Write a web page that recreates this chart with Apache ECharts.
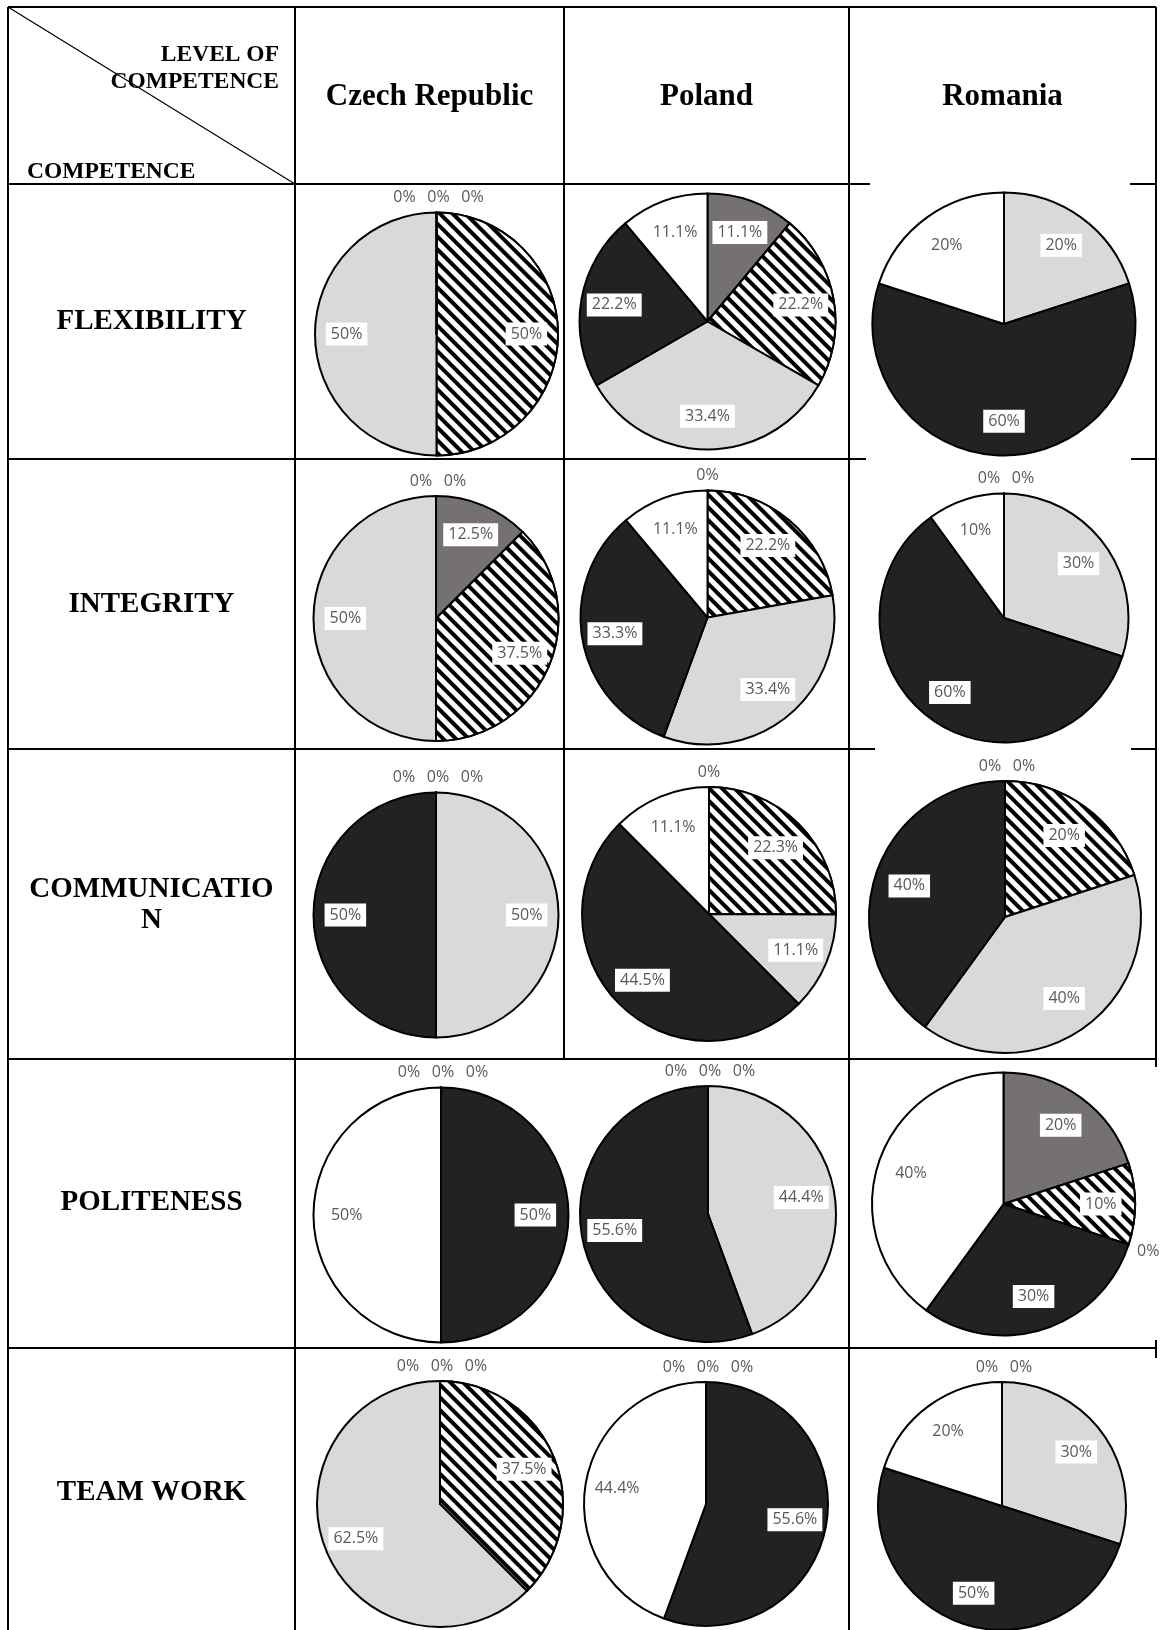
<!DOCTYPE html>
<html>
<head>
<meta charset="utf-8">
<script src="https://cdn.jsdelivr.net/npm/echarts@6/dist/echarts.min.js"></script>
<style>
  html, body { margin: 0; padding: 0; background: #fff; }
  #chart { width: 1169px; height: 1630px; }
</style>
</head>
<body>
<div id="chart"></div>
<script>
// ---- data ----
const countries = ['Czech Republic', 'Poland', 'Romania'];
const competences = ['FLEXIBILITY', 'INTEGRITY', 'COMMUNICATIO\nN', 'POLITENESS', 'TEAM WORK'];
const levels = ['level 1', 'level 2', 'level 3', 'level 4', 'level 5'];

// share of answers (%) per competence (rows) and level (columns); null = not reported
const czechRepublic = [
  [0, 50, 50, 0, 0],
  [12.5, 37.5, 50, 0, 0],
  [0, 0, 50, 50, 0],
  [0, 0, 0, 50, 50],
  [0, 37.5, 62.5, 0, 0]
];
const poland = [
  [11.1, 22.2, 33.4, 22.2, 11.1],
  [0, 22.2, 33.4, 33.3, 11.1],
  [0, 22.3, 11.1, 44.5, 11.1],
  [0, 0, 44.4, 55.6, 0],
  [0, 0, 0, 55.6, 44.4]
];
const romania = [
  [null, null, 20, 60, 20],
  [0, 0, 30, 60, 10],
  [0, 20, 40, 40, 0],
  [20, 10, 0, 30, 40],
  [0, 0, 30, 50, 20]
];

// ---- layout ----
// pie centre x, centre y, radius for each competence row and country column
const pieCells = [
  [[436.5, 334, 121.5], [707.5, 321.5, 128], [1004, 324, 131.5]],
  [[436, 618.5, 122.5], [707.5, 617.5, 127], [1004, 618, 124.5]],
  [[436, 915, 122.5], [709, 914, 127], [1005, 917, 136]],
  [[441, 1215, 127.5], [708, 1214, 128], [1003.5, 1204, 131.5]],
  [[440, 1504, 123], [706, 1504, 122], [1002, 1506, 124]]
];
const headerCenters = [429.5, 706.5, 1002.5];
const rowLabelY = [322, 605, 905.5, 1203, 1493];

// ---- styles ----
const levelFills = ['#767171', '#ffffff', '#d9d9d9', '#222222', '#ffffff'];
const hatch = {
  symbol: 'rect', symbolSize: 1, color: '#000', backgroundColor: '#fff',
  dashArrayX: [1, 0], dashArrayY: [4, 4.6], rotation: Math.PI / 4
};
const serif = '"Liberation Serif", "Times New Roman", serif';

function buildPie(values, cell) {
  const [cx, cy, r] = cell;
  const items = [];
  values.forEach((v, i) => { if (v != null) items.push({ level: i, value: v }); });
  const total = items.reduce((s, d) => s + d.value, 0);
  let cum = 0;
  const mids = items.map(d => { const m = (cum + d.value / 2) / total; cum += d.value; return m; });

  // zero slices sitting on the same angle get their labels spread side by side
  const groups = {};
  items.forEach((d, i) => {
    if (d.value === 0) {
      const key = (mids[i] % 1).toFixed(3);
      (groups[key] = groups[key] || []).push(i);
    }
  });
  const labelPos = items.map((d, i) => {
    const a = mids[i] * 2 * Math.PI;
    if (d.value !== 0) {
      const rho = r * 0.74;
      return [cx + rho * Math.sin(a), cy - rho * Math.cos(a)];
    }
    const g = groups[(mids[i] % 1).toFixed(3)];
    const k = g.indexOf(i);
    const rho = r + 15 + 6 * Math.abs(Math.sin(a));
    const spread = g.length > 1 ? (k - (g.length - 1) / 2) * 34 + 2 : 0;
    return [cx + rho * Math.sin(a) + spread, cy - rho * Math.cos(a)];
  });

  return {
    type: 'pie',
    center: [cx, cy],
    radius: r,
    startAngle: 90,
    clockwise: true,
    silent: true,
    animation: false,
    avoidLabelOverlap: false,
    itemStyle: { borderColor: '#000', borderWidth: 2 },
    label: {
      show: true,
      position: 'inside',
      formatter: p => p.value + '%',
      color: '#595959',
      fontFamily: '"Open Sans", sans-serif',
      fontSize: 16,
      backgroundColor: '#fff',
      padding: [4, 5, 3, 5]
    },
    labelLine: { show: false },
    labelLayout: p => ({
      x: labelPos[p.dataIndex][0],
      y: labelPos[p.dataIndex][1],
      align: 'center',
      verticalAlign: 'middle'
    }),
    data: items.map(d => {
      const item = {
        name: levels[d.level],
        value: d.value,
        itemStyle: { color: levelFills[d.level] }
      };
      if (d.level === 1) item.itemStyle.decal = hatch;
      if (d.value === 0) item.label = { backgroundColor: 'transparent', padding: 0 };
      return item;
    })
  };
}

const series = [];
[czechRepublic, poland, romania].forEach((table, c) => {
  table.forEach((row, k) => series.push(buildPie(row, pieCells[k][c])));
});

// ---- table grid ----
const gridLines = [
  // horizontal
  [8, 7, 1156, 7],
  [8, 184, 849, 184], [849, 184, 870, 184], [1130, 184, 1156, 184],
  [8, 459, 849, 459], [849, 459, 866, 459], [1131, 459, 1156, 459],
  [8, 749, 849, 749], [849, 749, 875, 749], [1131, 749, 1156, 749],
  [8, 1059, 1156, 1059],
  [8, 1348, 1156, 1348],
  // vertical
  [8, 7, 8, 1630],
  [295, 7, 295, 1630],
  [564, 7, 564, 1059],
  [849, 7, 849, 1630],
  [1156, 7, 1156, 1067],
  [1156, 1340, 1156, 1358]
];

const graphic = gridLines.map(([x1, y1, x2, y2]) => ({
  type: 'line', silent: true,
  shape: { x1, y1, x2, y2 },
  style: { stroke: '#000', lineWidth: 2 }
}));
graphic.push({
  type: 'line', silent: true,
  shape: { x1: 8, y1: 7, x2: 295, y2: 184 },
  style: { stroke: '#000', lineWidth: 1.2 }
});

const headFont = 'bold 23.5px ' + serif;
graphic.push(
  { type: 'text', silent: true, style: { text: 'LEVEL OF', x: 279, y: 55, font: headFont, fill: '#000', align: 'right', verticalAlign: 'middle' } },
  { type: 'text', silent: true, style: { text: 'COMPETENCE', x: 279, y: 81.5, font: headFont, fill: '#000', align: 'right', verticalAlign: 'middle' } },
  { type: 'text', silent: true, style: { text: 'COMPETENCE', x: 27, y: 171.5, font: headFont, fill: '#000', align: 'left', verticalAlign: 'middle' } }
);
countries.forEach((name, i) => graphic.push({
  type: 'text', silent: true,
  style: { text: name, x: headerCenters[i], y: 97, font: 'bold 31px ' + serif, fill: '#000', align: 'center', verticalAlign: 'middle' }
}));
competences.forEach((name, i) => graphic.push({
  type: 'text', silent: true,
  style: { text: name, x: 151.5, y: rowLabelY[i], font: 'bold 29px ' + serif, lineHeight: 31, fill: '#000', align: 'center', verticalAlign: 'middle' }
}));

const chart = echarts.init(document.getElementById('chart'), null, { renderer: 'canvas' });
chart.setOption({
  backgroundColor: '#fff',
  animation: false,
  graphic,
  series
});
</script>
</body>
</html>
